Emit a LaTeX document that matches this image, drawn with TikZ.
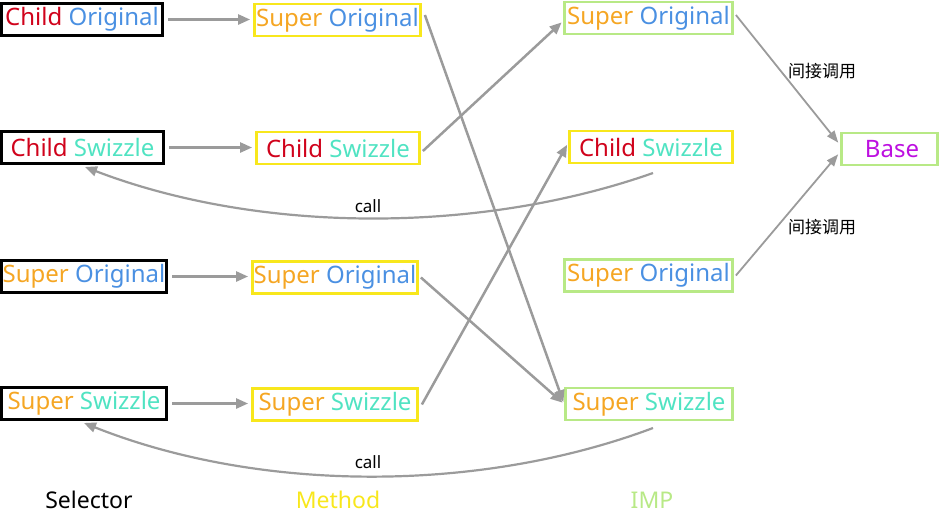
\documentclass[tikz,border=0pt]{standalone}
\usepackage{fontspec}
\setmainfont{Noto Sans}
\newfontfamily\cjk{Noto Sans CJK SC}
\usetikzlibrary{arrows.meta,calc}
\definecolor{cred}{HTML}{D0021B}
\definecolor{cblue}{HTML}{4A90E2}
\definecolor{corange}{HTML}{F5A623}
\definecolor{cteal}{HTML}{50E3C2}
\definecolor{cyellow}{HTML}{F8E71C}
\definecolor{cgreen}{HTML}{B8E986}
\definecolor{cmag}{HTML}{BD10E0}
\definecolor{cgray}{HTML}{9B9B9B}
\newcommand\wChild{\textcolor{cred}{Child}}
\newcommand\wSuper{\textcolor{corange}{Super}}
\newcommand\wOrig{\textcolor{cblue}{Original}}
\newcommand\wSwiz{\textcolor{cteal}{Swizzle}}
\begin{document}
\begin{tikzpicture}[x=1pt,y=-1pt,
  box/.style={draw, inner sep=0pt, minimum height=32pt, font=\fontsize{24}{28}\selectfont},
  sel/.style={box, draw=black, line width=3.2pt},
  meth/.style={box, draw=cyellow, line width=2.8pt},
  imp/.style={box, draw=cgreen, line width=2.8pt},
  arr/.style={draw=cgray, line width=2.5pt, -{Triangle[length=12pt,width=10pt]}},
  arrthin/.style={draw=cgray, line width=1.8pt, -{Triangle[length=12pt,width=9pt]}},
  lbl/.style={font=\fontsize{17}{20}\selectfont, text=black, inner sep=0pt},
  colcap/.style={font=\fontsize{23}{27}\selectfont, inner sep=0pt}
  ]
\useasboundingbox (0,0) rectangle (939,515);
% Selector column
\node[sel, minimum width=161pt] (S1) at (82,19.5) {\wChild\ \wOrig};
\node[sel, minimum width=162pt] (S2) at (82.5,147.5) {\wChild\ \wSwiz};
\node[sel, minimum width=165pt] (S3) at (84,276.5) {\wSuper\ \wOrig};
\node[sel, minimum width=165pt] (S4) at (84,403.5) {\wSuper\ \wSwiz};
% Method column
\node[meth, minimum width=166pt] (M1) at (337.5,20) {\wSuper\ \wOrig};
\node[meth, minimum width=163pt] (M2) at (338,148) {\wChild\ \wSwiz};
\node[meth, minimum width=165pt] (M3) at (335,277.5) {\wSuper\ \wOrig};
\node[meth, minimum width=165pt] (M4) at (335,404.5) {\wSuper\ \wSwiz};
% IMP column
\node[imp, minimum width=168pt] (I1) at (648.5,18) {\wSuper\ \wOrig};
\node[meth, minimum width=163pt] (I2) at (651,147) {\wChild\ \wSwiz};
\node[imp, minimum width=168pt] (I3) at (648.5,275.5) {\wSuper\ \wOrig};
\node[imp, minimum width=167pt] (I4) at (649,404) {\wSuper\ \wSwiz};
\node[imp, minimum width=96pt] (B) at (889.5,149) {\hspace*{5pt}\textcolor{cmag}{Base}};
% horizontal arrows
\draw[arr, shorten <=4pt, shorten >=3pt] (S1) -- (M1.west |- S1);
\draw[arr, shorten <=4pt, shorten >=3pt] (S2) -- (M2.west |- S2);
\draw[arr, shorten <=4pt, shorten >=3pt] (S3) -- (M3.west |- S3);
\draw[arr, shorten <=4pt, shorten >=3pt] (S4) -- (M4.west |- S4);
% crossing arrows
\draw[arr, shorten >=2pt] ($(M1.east)+(3,-5)$) -- (I4.west);
\draw[arr, shorten >=2pt] ($(M3.east)+(2,0)$) -- (I4.west);
\draw[arr, shorten >=2pt] ($(M2.east)+(2,3)$) -- ($(I1.west)+(0,3)$);
\draw[arr, shorten >=2pt] ($(M4.east)+(3,0)$) -- ($(I2.west)+(0,-4)$);
% to Base
\draw[arrthin, shorten >=3pt] ($(I1.east)+(2,-3)$) -- ($(B.west)+(0,-4)$);
\draw[arrthin, shorten >=3pt] ($(I3.east)+(2,0)$) -- ($(B.west)+(0,3)$);
\coordinate (L1) at (822,71);
\coordinate (L2) at (822,227);
\node[lbl] (t1) at (L1) {\cjk 间接调用};
\node[lbl] (t2) at (L2) {\cjk 间接调用};
% call curves
\coordinate (c1s) at (653,173);
\coordinate (c1e) at (85,167);
\draw[arr, line width=2.2pt] (c1s) .. controls (480,234) and (260,234) .. (c1e);
\node[lbl] (call1) at (368,206) {call};
\coordinate (c2s) at (653,428);
\coordinate (c2e) at (84,423);
\draw[arr, line width=2.2pt] (c2s) .. controls (480,493) and (260,493) .. (c2e);
\node[lbl] (call2) at (368,462) {call};
% column captions
\node[colcap, text=black] (capS) at (89,500) {Selector};
\node[colcap, text=cyellow] (capM) at (338,500) {Method};
\node[colcap, text=cgreen] (capI) at (652,500) {IMP};
\end{tikzpicture}
\end{document}
